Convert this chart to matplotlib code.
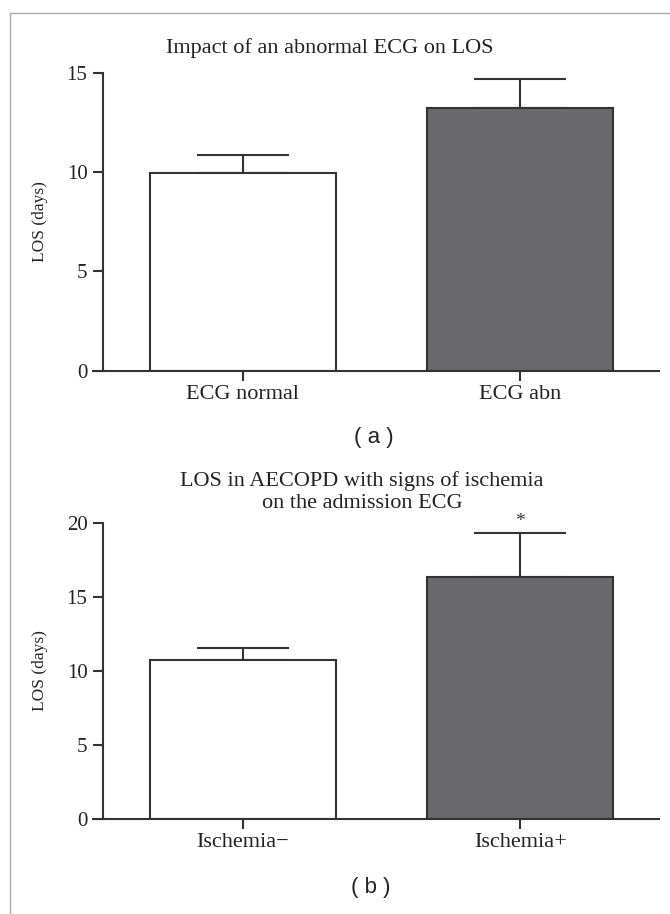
import matplotlib
matplotlib.use("Agg")
import matplotlib.pyplot as plt
from matplotlib.patches import Rectangle

# panel (a)
a_labels = ["ECG normal", "ECG abn"]
a_means = [9.95, 13.2]
a_err = [0.9, 1.5]

# panel (b)
b_labels = ["Ischemia\u2212", "Ischemia+"]
b_means = [10.7, 16.3]
b_err = [0.8, 3.0]

bar_colors = ["white", "#69696b"]
edge = "#333333"
txt = "#222222"

plt.rcParams["font.family"] = ["Liberation Serif", "DejaVu Serif"]

fig = plt.figure(figsize=(6.7, 9.14), dpi=100)

# thin frame like the source page
fig.add_artist(Rectangle((10 / 670, -0.01), 1.0, 1 - 13 / 914 + 0.01,
                         transform=fig.transFigure, fill=False,
                         edgecolor="#aaaaaa", lw=1.0))


def draw_panel(ax, labels, means, err, ymax, star=False):
    x = list(range(len(means)))
    ax.bar(x, means, width=0.67, color=bar_colors, edgecolor=edge,
           linewidth=1.5, zorder=2)
    ax.errorbar(x, means, yerr=[[0] * len(err), err], fmt="none",
                ecolor=edge, elinewidth=1.5, capsize=33, capthick=1.5,
                zorder=1)
    ax.set_xlim(-0.54, 1.5)
    ax.set_ylim(0, ymax)
    ax.spines["left"].set_position(("data", -0.505))
    ax.spines["left"].set_bounds(0, ymax)
    for s in ["left", "bottom"]:
        ax.spines[s].set_color(edge)
        ax.spines[s].set_linewidth(1.5)
    ax.spines["top"].set_visible(False)
    ax.spines["right"].set_visible(False)
    ax.set_yticks(range(0, ymax + 1, 5))
    ax.set_xticks(x)
    ax.set_xticklabels(labels, fontsize=16)
    ax.tick_params(axis="both", direction="out", length=7, width=1.5,
                   color=edge, labelcolor=txt)
    ax.tick_params(axis="y", labelsize=15, pad=4)
    ax.tick_params(axis="x", pad=3)
    ax.set_ylabel("LOS (days)", fontsize=12.5, color=txt)
    ax.yaxis.set_label_coords(-0.08, 0.5)
    if star:
        ax.text(1, means[1] + err[1] + 0.2, "*", ha="center", va="bottom",
                fontsize=14, color="#333333")
    ax.patch.set_alpha(0)


ax1 = fig.add_axes([0.1388, 0.5944, 0.8448, 0.3261])
draw_panel(ax1, a_labels, a_means, a_err, 15)

ax2 = fig.add_axes([0.1388, 0.1043, 0.8448, 0.3238])
draw_panel(ax2, b_labels, b_means, b_err, 20, star=True)

fig.text(330 / 670, 1 - 48 / 914, "Impact of an abnormal ECG on LOS",
         ha="center", va="center", fontsize=16, color=txt)
fig.text(362 / 670, 1 - 492 / 914,
         "LOS in AECOPD with signs of ischemia\non the admission ECG",
         ha="center", va="center", fontsize=16, color=txt, linespacing=1.25)

fig.text(374 / 670, 1 - 438 / 914, "( a )", ha="center", va="center",
         fontsize=16, family=["Liberation Sans"], color=txt)
fig.text(371 / 670, 1 - 887 / 914, "( b )", ha="center", va="center",
         fontsize=16, family=["Liberation Sans"], color=txt)

fig.savefig("out.png", dpi=100)
